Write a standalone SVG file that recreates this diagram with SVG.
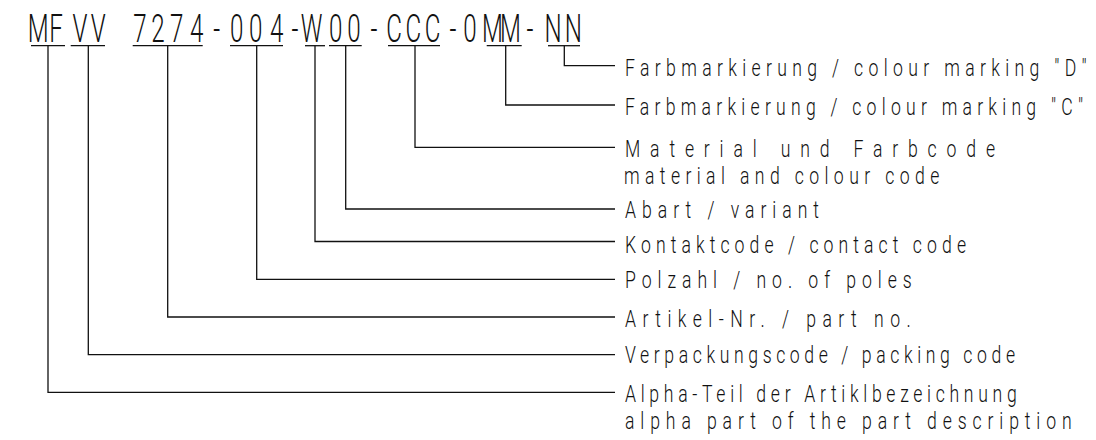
<svg xmlns="http://www.w3.org/2000/svg" width="1096" height="440" viewBox="0 0 1096 440">
<style>
.code{font-family:Roboto,"Liberation Sans",Arial,sans-serif;font-weight:300;font-size:39px;fill:#111;text-anchor:middle}
.lbl{font-family:Roboto,"Liberation Sans",Arial,sans-serif;font-weight:300;font-size:24.5px;fill:#111}
.ln{fill:none;stroke:#111;stroke-width:1.3}
</style>
<rect width="1096" height="440" fill="#fff"/>
<g id="code">
<text class="code" transform="translate(0,41.7) scale(0.62,1)" x="61.77 90.32 129.03 158.55 225.81 254.84 285.0 317.26 349.52 381.77 412.58 446.29 475.81 502.74 541.61 570.97 603.23 635.48 666.61 697.58 730.65 758.06 794.35 823.39 854.84 891.94 924.68" y="0">MFVV7274-004-W00-CCC-0MM-NN</text>
<line class="ln" x1="31" y1="45.7" x2="65" y2="45.7"/>
<line class="ln" x1="70.7" y1="45.7" x2="105" y2="45.7"/>
<line class="ln" x1="132.7" y1="45.7" x2="202.7" y2="45.7"/>
<line class="ln" x1="230" y1="45.7" x2="283" y2="45.7"/>
<line class="ln" x1="305" y1="45.7" x2="325" y2="45.7"/>
<line class="ln" x1="329" y1="45.7" x2="361.7" y2="45.7"/>
<line class="ln" x1="388" y1="45.7" x2="440" y2="45.7"/>
<line class="ln" x1="486.7" y1="45.7" x2="521.7" y2="45.7"/>
<line class="ln" x1="548" y1="45.7" x2="580" y2="45.7"/>
</g>
<g id="connectors">
<polyline class="ln" points="564.3,45.7 564.3,65.7 615,65.7"/>
<polyline class="ln" points="505.7,45.7 505.7,105 615,105"/>
<polyline class="ln" points="415,45.7 415,147.3 615,147.3"/>
<polyline class="ln" points="345.7,45.7 345.7,209 615,209"/>
<polyline class="ln" points="315,45.7 315,241.5 615,241.5"/>
<polyline class="ln" points="256.7,45.7 256.7,279.3 615,279.3"/>
<polyline class="ln" points="167.7,45.7 167.7,317 615,317"/>
<polyline class="ln" points="88.3,45.7 88.3,354.7 615,354.7"/>
<polyline class="ln" points="48,45.7 48,392.3 615,392.3"/>
</g>
<g id="label-d">
<text class="lbl" transform="translate(625,76) scale(0.72,1)" textLength="641.2" lengthAdjust="spacing">Farbmarkierung / colour marking "D"</text>
</g>
<g id="label-c">
<text class="lbl" transform="translate(625,115) scale(0.72,1)" textLength="636.1" lengthAdjust="spacing">Farbmarkierung / colour marking "C"</text>
</g>
<g id="label-material">
<text class="lbl" transform="translate(625,156.7) scale(0.72,1)" textLength="513.9" lengthAdjust="spacing">Material und Farbcode</text>
<text class="lbl" transform="translate(624,184) scale(0.72,1)" textLength="437.9" lengthAdjust="spacing">material and colour code</text>
</g>
<g id="label-variant">
<text class="lbl" transform="translate(625,218.3) scale(0.72,1)" textLength="269.4" lengthAdjust="spacing">Abart / variant</text>
</g>
<g id="label-contact">
<text class="lbl" transform="translate(625,252.7) scale(0.72,1)" textLength="473.6" lengthAdjust="spacing">Kontaktcode / contact code</text>
</g>
<g id="label-poles">
<text class="lbl" transform="translate(625,288.3) scale(0.72,1)" textLength="398.2" lengthAdjust="spacing">Polzahl / no. of poles</text>
</g>
<g id="label-part">
<text class="lbl" transform="translate(625,326.7) scale(0.72,1)" textLength="396.8" lengthAdjust="spacing">Artikel-Nr. / part no.</text>
</g>
<g id="label-packing">
<text class="lbl" transform="translate(625,363.3) scale(0.72,1)" textLength="541.7" lengthAdjust="spacing">Verpackungscode / packing code</text>
</g>
<g id="label-alpha">
<text class="lbl" transform="translate(625,401.7) scale(0.72,1)" textLength="544" lengthAdjust="spacing">Alpha-Teil der Artiklbezeichnung</text>
<text class="lbl" transform="translate(625,429) scale(0.72,1)" textLength="620.4" lengthAdjust="spacing">alpha part of the part description</text>
</g>
</svg>
